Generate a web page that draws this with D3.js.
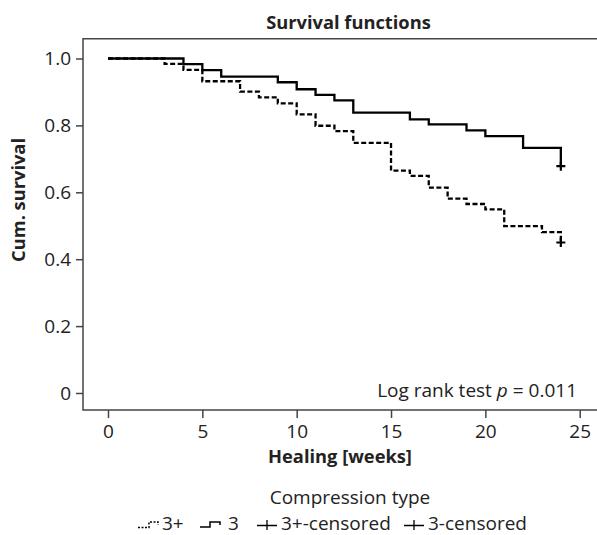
<!DOCTYPE html>
<html>
<head>
<meta charset="utf-8">
<script src="https://d3js.org/d3.v7.min.js"></script>
<style>
    body { margin: 0; background: #fff; }
    svg text { font-family: "Open Sans", sans-serif; fill: #222; }
</style>
</head>
<body>
<div id="chart"></div>
<script>
// Kaplan-Meier step values
const weeks3plus = [0, 3, 4, 5, 7, 8, 9, 10, 11, 12, 13, 15, 16, 17, 18, 19, 20, 21, 23, 24];
const surv3plus  = [1.0, 0.984, 0.966, 0.932, 0.901, 0.884, 0.866, 0.833, 0.799, 0.783, 0.748,
                    0.665, 0.649, 0.614, 0.581, 0.565, 0.549, 0.499, 0.481, 0.450];

const weeks3 = [0, 4, 5, 6, 9, 10, 11, 12, 13, 16, 17, 19, 20, 22, 24];
const surv3  = [1.0, 0.983, 0.965, 0.946, 0.929, 0.908, 0.891, 0.875, 0.838, 0.818, 0.803,
                0.785, 0.768, 0.733, 0.678];

const censoredWeeks  = [24, 24];
const censoredValues = [0.450, 0.678];

const xTicks = [0, 5, 10, 15, 20, 25];
const yTicks = [0, 0.2, 0.4, 0.6, 0.8, 1.0];
const yTickLabels = ["0", "0.2", "0.4", "0.6", "0.8", "1.0"];

const legendLabels = ["3+", "3", "3+-censored", "3-censored"];

const width = 597, height = 535;
const fs = 19, fsBold = 18.3;

const svg = d3.select("#chart").append("svg")
    .attr("width", width)
    .attr("height", height);

// frame bounds
const frame = {left: 83, right: 597, top: 38.7, bottom: 410};

const x = d3.scaleLinear().domain([0, 25]).range([108, 579.7]);
const y = d3.scaleLinear().domain([0, 1]).range([393, 58.5]);

// title
svg.append("text")
    .attr("x", 348.5).attr("y", 29)
    .attr("text-anchor", "middle")
    .attr("font-size", fsBold).attr("font-weight", "bold")
    .text("Survival functions");

// frame lines: top, left, bottom
svg.append("path")
    .attr("d", `M${frame.right},${frame.top}H${frame.left}V${frame.bottom}H${frame.right}`)
    .attr("fill", "none")
    .attr("stroke", "#444")
    .attr("stroke-width", 1.5);

// y axis
const yAxis = svg.append("g")
    .attr("transform", `translate(${frame.left},0)`)
    .call(d3.axisLeft(y).tickValues(yTicks).tickSize(7).tickPadding(5)
        .tickFormat((d, i) => yTickLabels[i]));
yAxis.select(".domain").remove();
yAxis.selectAll(".tick line").attr("stroke", "#444").attr("stroke-width", 1.5);
yAxis.selectAll(".tick text").attr("font-size", fs).attr("fill", "#222")
    .attr("font-family", "Open Sans");

// x axis
const xAxis = svg.append("g")
    .attr("transform", `translate(0,${frame.bottom})`)
    .call(d3.axisBottom(x).tickValues(xTicks).tickSize(8).tickPadding(7)
        .tickFormat(d3.format("d")));
xAxis.select(".domain").remove();
xAxis.selectAll(".tick line").attr("stroke", "#444").attr("stroke-width", 1.5);
xAxis.selectAll(".tick text").attr("font-size", fs).attr("fill", "#222")
    .attr("font-family", "Open Sans");

// axis titles
svg.append("text")
    .attr("transform", "translate(25,200) rotate(-90)")
    .attr("text-anchor", "middle")
    .attr("font-size", fsBold).attr("font-weight", "bold")
    .text("Cum. survival");

svg.append("text")
    .attr("x", 340).attr("y", 463)
    .attr("text-anchor", "middle")
    .attr("font-size", fsBold).attr("font-weight", "bold")
    .text("Healing [weeks]");

// survival curves
const line = d3.line()
    .x(d => x(d[0]))
    .y(d => y(d[1]))
    .curve(d3.curveStepAfter);

svg.append("path")
    .datum(d3.zip(weeks3, surv3))
    .attr("d", line)
    .attr("fill", "none")
    .attr("stroke", "#000")
    .attr("stroke-width", 2.3);

svg.append("path")
    .datum(d3.zip(weeks3plus, surv3plus))
    .attr("d", line)
    .attr("fill", "none")
    .attr("stroke", "#000")
    .attr("stroke-width", 2.3)
    .attr("stroke-dasharray", "5,2.5");

// censored marks
svg.selectAll(".censor")
    .data(d3.zip(censoredWeeks, censoredValues))
    .join("path")
    .attr("class", "censor")
    .attr("d", d => `M${x(d[0]) - 4.5},${y(d[1])}h9M${x(d[0])},${y(d[1]) - 4.5}v9`)
    .attr("stroke", "#000")
    .attr("stroke-width", 2.2);

// log rank annotation
const lr = svg.append("text")
    .attr("x", 577).attr("y", 397)
    .attr("text-anchor", "end")
    .attr("font-size", fs);
lr.append("tspan").text("Log rank test ");
lr.append("tspan").attr("font-style", "italic").text("p");
lr.append("tspan").text(" = 0.011");

// legend
svg.append("text")
    .attr("x", 350).attr("y", 504)
    .attr("text-anchor", "middle")
    .attr("font-size", fs)
    .text("Compression type");

const legendY = 530;
const legend = svg.append("g");

// dashed step glyph
legend.append("path")
    .attr("d", `M138,${legendY - 2.5}H149V${legendY - 8}H158V${legendY - 5}`)
    .attr("fill", "none").attr("stroke", "#000").attr("stroke-width", 1.5)
    .attr("stroke-dasharray", "2,1.5");
legend.append("text").attr("x", 162).attr("y", legendY)
    .attr("font-size", fs).text(legendLabels[0]);

// solid step glyph
legend.append("path")
    .attr("d", `M200,${legendY - 3}H210V${legendY - 8}H220V${legendY - 5}`)
    .attr("fill", "none").attr("stroke", "#000").attr("stroke-width", 1.5);
legend.append("text").attr("x", 228).attr("y", legendY)
    .attr("font-size", fs).text(legendLabels[1]);

// censored crosses
[[257, 2, 281], [404, 3, 428]].forEach(([cx, i, tx]) => {
    legend.append("path")
        .attr("d", `M${cx},${legendY - 4.5}h20M${cx + 10},${legendY - 10}v10`)
        .attr("stroke", "#000").attr("stroke-width", 1.3);
    legend.append("text").attr("x", tx).attr("y", legendY)
        .attr("font-size", fs).text(legendLabels[i]);
});
</script>
</body>
</html>
